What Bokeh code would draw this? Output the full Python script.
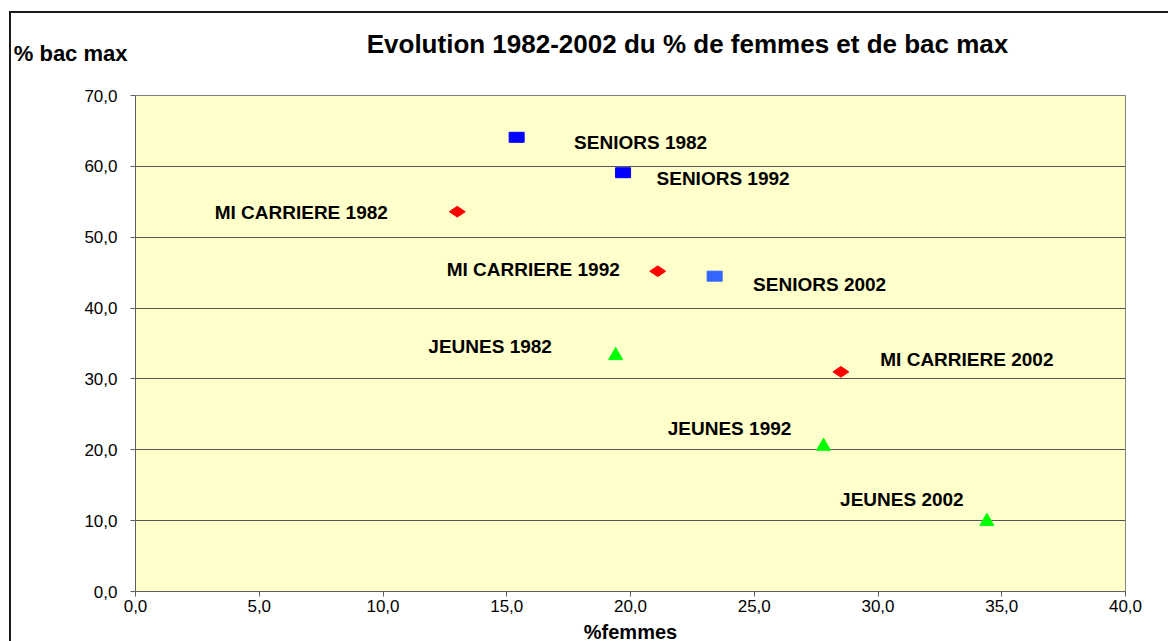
from bokeh.plotting import figure
from bokeh.layouts import column
from bokeh.models import (Range1d, CustomJSTickFormatter, ColumnDataSource, FixedTicker,
                          LinearAxis, InlineStyleSheet)
from bokeh.core.properties import value
from bokeh.embed import file_html
from bokeh.resources import INLINE
import math

# ---- data ----
seniors_x = [15.4, 19.7, 23.4]
seniors_y = [64.1, 59.1, 44.5]
mi_x = [13.0, 21.1, 28.5]
mi_y = [53.6, 45.2, 31.0]
jeunes_x = [19.4, 27.8, 34.4]
jeunes_y = [33.3, 20.5, 9.9]
years = ["1982", "1992", "2002"]
x_ticks = [0, 5, 10, 15, 20, 25, 30, 35, 40]
y_ticks = [0, 10, 20, 30, 40, 50, 60, 70]
title_text = "Evolution 1982-2002 du % de femmes et de bac max"
x_title = "%femmes"
y_title = "% bac max"

# label placement (screen offsets from each point to the text centre)
seniors_off = [(124, 5.5), (100, 5.5), (105, 8)]
mi_off = [(-156, 1), (-124.5, -2), (126, -12.5)]
jeunes_off = [(-125.5, -9.5), (-94, -17.5), (-85, -21.5)]

FONT = "Liberation Sans"
W = 1152
HEAD_H = 80
HEAD_TOP = 26
FRAME_L, FRAME_W = 135, 990

# ---- header (chart title and y-axis title) ----
head = figure(width=W, height=HEAD_H, output_backend="svg", toolbar_location=None,
              x_range=Range1d(FRAME_L, FRAME_L + FRAME_W), y_range=Range1d(HEAD_H, HEAD_TOP),
              x_axis_location=None, y_axis_location=None,
              min_border_left=FRAME_L, min_border_right=W - FRAME_L - FRAME_W,
              min_border_top=HEAD_TOP, min_border_bottom=0, outline_line_color=None)
head.grid.visible = False
head.background_fill_color = "white"
head.border_fill_color = "white"
yt = LinearAxis(ticker=FixedTicker(ticks=[]), axis_line_color=None,
                major_tick_line_color=None, minor_tick_line_color=None,
                major_tick_out=0, major_tick_in=0, minor_tick_out=0, minor_tick_in=0,
                major_label_text_font_size="0px",
                axis_label=y_title, axis_label_orientation="horizontal",
                axis_label_standoff=8, axis_label_text_font=FONT,
                axis_label_text_font_style="bold", axis_label_text_font_size="22px",
                axis_label_text_color="black")
head.add_layout(yt, "left")
head.text(x=[687], y=[43], text=[title_text], text_font=value(FONT),
          text_font_style="bold", text_font_size="26px", text_align="center",
          text_baseline="middle", text_color="black")

# ---- main chart ----
p = figure(width=W, height=641 - HEAD_H, output_backend="svg", toolbar_location=None,
           x_range=Range1d(0, 40), y_range=Range1d(0, 70),
           min_border_left=FRAME_L, min_border_right=W - FRAME_L - FRAME_W,
           min_border_top=95 - HEAD_H, min_border_bottom=50,
           frame_width=FRAME_W, frame_height=496)
p.background_fill_color = "#FFFFCC"
p.border_fill_color = "white"
p.outline_line_color = "#808080"
p.outline_line_width = 1

fmt = CustomJSTickFormatter(code="return tick.toFixed(1).replace('.', ',');")
for ax in (p.xaxis[0], p.yaxis[0]):
    ax.formatter = fmt
    ax.axis_line_color = "#606060"
    ax.major_tick_line_color = "#606060"
    ax.minor_tick_line_color = None
    ax.major_tick_in = 0
    ax.major_tick_out = 5
    ax.major_label_text_font = FONT
    ax.major_label_text_font_size = "17px"
    ax.major_label_text_color = "black"
p.xaxis[0].ticker = FixedTicker(ticks=x_ticks)
p.yaxis[0].ticker = FixedTicker(ticks=y_ticks)
p.xaxis[0].major_label_standoff = 3
p.yaxis[0].major_label_standoff = 13
p.xaxis[0].axis_label = x_title
p.xaxis[0].axis_label_text_font = FONT
p.xaxis[0].axis_label_text_font_style = "bold"
p.xaxis[0].axis_label_text_font_size = "20px"
p.xaxis[0].axis_label_text_color = "black"
p.xaxis[0].axis_label_standoff = 6

p.xgrid.grid_line_color = None
p.ygrid.grid_line_color = "#555555"
p.ygrid.grid_line_width = 1
p.ygrid.ticker = FixedTicker(ticks=y_ticks)

# markers
p.rect(seniors_x[:2], seniors_y[:2], width=15, height=10, width_units="screen",
       height_units="screen", fill_color="#0000FF", line_color="#0000FF")
p.rect(seniors_x[2:], seniors_y[2:], width=15, height=10, width_units="screen",
       height_units="screen", fill_color="#3366FF", line_color="#3366FF")
p.scatter(mi_x, mi_y, marker="diamond", size=16, angle=math.pi / 2,
          fill_color="#FF0000", line_color="#FF0000")
p.scatter(jeunes_x, jeunes_y, marker="triangle", size=14,
          fill_color="#00FF00", line_color="#00FF00")

# point labels
lx, ly, lt, ox, oy = [], [], [], [], []
for name, xs, ys, offs in (("SENIORS", seniors_x, seniors_y, seniors_off),
                           ("MI CARRIERE", mi_x, mi_y, mi_off),
                           ("JEUNES", jeunes_x, jeunes_y, jeunes_off)):
    for xv, yv, yr, (dx, dy) in zip(xs, ys, years, offs):
        lx.append(xv); ly.append(yv); lt.append(f"{name} {yr}")
        ox.append(dx); oy.append(dy)
src = ColumnDataSource(dict(x=lx, y=ly, text=lt, ox=ox, oy=oy))
p.text(x="x", y="y", text="text", x_offset="ox", y_offset="oy", source=src,
       text_font=value(FONT), text_font_style="bold", text_font_size="19px",
       text_align="center", text_baseline="middle", text_color="black")

# outer chart border (left and top edges, as in the reference)
border_css = InlineStyleSheet(css="""
:host { position: relative; }
:host::after {
  content: ""; position: absolute; left: 9px; top: 11px; right: -16px; bottom: 0px;
  border-left: 2px solid #1a1a1a; border-top: 2px solid #1a1a1a;
  pointer-events: none; z-index: 10;
}
""")

layout = column(head, p, spacing=0, stylesheets=[border_css])
open("out.html", "w").write(file_html(layout, INLINE))
